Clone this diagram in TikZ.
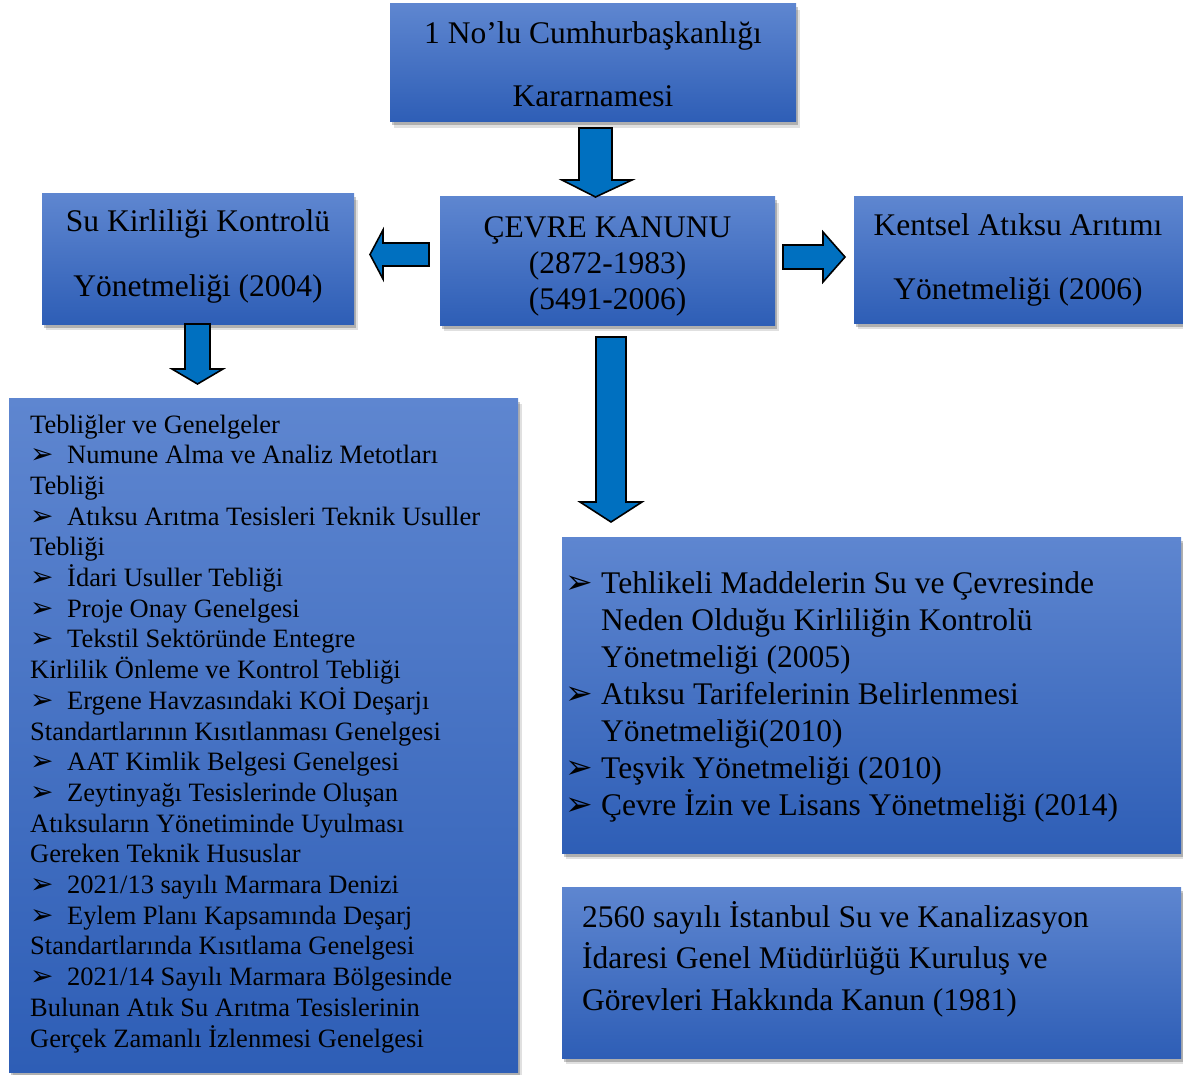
\documentclass[tikz,border=0pt]{standalone}
\usepackage{fontspec}
\setmainfont{Liberation Serif}
\newfontfamily\symfont{DejaVu Sans}
\usetikzlibrary{shadows}

\definecolor{boxtop}{HTML}{5E86D0}
\definecolor{boxbot}{HTML}{2E5EB6}
\definecolor{arrowblue}{HTML}{0070C0}

% arrowhead bullets for the two lists
\newcommand\bulS{\makebox[37pt][l]{\symfont\fontsize{28}{28}\selectfont ➢}}
\newcommand\bulL{\makebox[36pt][l]{\symfont\fontsize{33}{33}\selectfont ➢}}

\tikzset{
  box/.style={rectangle, inner sep=0pt, draw=none,
    top color=boxtop, bottom color=boxbot,
    % two stacked faint shadows give a softer edge
    drop shadow={shadow xshift=3.5pt, shadow yshift=-6pt, opacity=.12, fill=black},
    drop shadow={shadow xshift=2pt, shadow yshift=-3.5pt, opacity=.22, fill=black}},
  blockarrow/.style={fill=arrowblue, draw=black, line width=1.6pt, line join=miter},
  lbl/.style={inner sep=0pt, text=black, align=center, anchor=base},
  listtext/.style={inner sep=0pt, text=black, align=left, anchor=base west},
  bigfont/.style={font=\fontsize{31.5}{#1}\selectfont},
}

\begin{document}
\begin{tikzpicture}[x=1pt, y=-1pt]
\useasboundingbox (0,0) rectangle (1183,1075);

% boxes
\node[box, minimum width=406pt, minimum height=118pt] (kararname) at (593,63) {};
\node[box, minimum width=335pt, minimum height=128pt] (kanun) at (607.5,261) {};
\node[box, minimum width=312pt, minimum height=130pt] (sukirlilik) at (198,259) {};
\node[box, minimum width=336pt, minimum height=126pt] (kentsel) at (1022,260) {};
\node[box, minimum width=509pt, minimum height=674pt] (teblig) at (263.5,735) {};
\node[box, minimum width=619pt, minimum height=316pt] (yonetmelik) at (871.5,695) {};
\node[box, minimum width=619pt, minimum height=171pt] (iski) at (871.5,972.5) {};

% box texts (each placed by the baseline of its last line)
\node[lbl, bigfont=63] (t1) at (593,107) {1 No’lu Cumhurbaşkanlığı\\Kararnamesi};
\node[lbl, bigfont=36] (t2) at (607.5,309) {ÇEVRE KANUNU\\(2872-1983)\\(5491-2006)};
\node[lbl, bigfont=65] (t3) at (198,297) {Su Kirliliği Kontrolü\\Yönetmeliği (2004)};
\node[lbl, bigfont=64] (t4) at (1018,300) {Kentsel Atıksu Arıtımı\\Yönetmeliği (2006)};

\node[listtext, font=\fontsize{26.5}{30.7}\selectfont] (t5) at (30,1047) {%
Tebliğler ve Genelgeler\\
\bulS Numune Alma ve Analiz Metotları\\
Tebliği\\
\bulS Atıksu Arıtma Tesisleri Teknik Usuller\\
Tebliği\\
\bulS İdari Usuller Tebliği\\
\bulS Proje Onay Genelgesi\\
\bulS Tekstil Sektöründe Entegre\\
Kirlilik Önleme ve Kontrol Tebliği\\
\bulS Ergene Havzasındaki KOİ Deşarjı\\
Standartlarının Kısıtlanması Genelgesi\\
\bulS AAT Kimlik Belgesi Genelgesi\\
\bulS Zeytinyağı Tesislerinde Oluşan\\
Atıksuların Yönetiminde Uyulması\\
Gereken Teknik Hususlar\\
\bulS 2021/13 sayılı Marmara Denizi\\
\bulS Eylem Planı Kapsamında Deşarj\\
Standartlarında Kısıtlama Genelgesi\\
\bulS 2021/14 Sayılı Marmara Bölgesinde\\
Bulunan Atık Su Arıtma Tesislerinin\\
Gerçek Zamanlı İzlenmesi Genelgesi};

\node[listtext, bigfont=37] (t6) at (565,815) {%
\bulL Tehlikeli Maddelerin Su ve Çevresinde\\
\hspace*{36pt}Neden Olduğu Kirliliğin Kontrolü\\
\hspace*{36pt}Yönetmeliği (2005)\\
\bulL Atıksu Tarifelerinin Belirlenmesi\\
\hspace*{36pt}Yönetmeliği(2010)\\
\bulL Teşvik Yönetmeliği (2010)\\
\bulL Çevre İzin ve Lisans Yönetmeliği (2014)};

\node[listtext, bigfont=41.5] (t7) at (582,1010) {%
2560 sayılı İstanbul Su ve Kanalizasyon\\
İdaresi Genel Müdürlüğü Kuruluş ve\\
Görevleri Hakkında Kanun (1981)};

% block arrows between the boxes
\draw[blockarrow] (579,128) -- (612,128) -- (612,180) -- (632,180) -- (595.5,197)
  -- (562,180) -- (579,180) -- cycle;
\draw[blockarrow] (429,243) -- (429,266) -- (383,266) -- (383,279) -- (370,254.5)
  -- (383,230) -- (383,243) -- cycle;
\draw[blockarrow] (783,245) -- (783,269) -- (823,269) -- (823,282) -- (845,257)
  -- (823,232) -- (823,245) -- cycle;
\draw[blockarrow] (185,324) -- (210,324) -- (210,369) -- (223,369) -- (197.5,384)
  -- (172,369) -- (185,369) -- cycle;
\draw[blockarrow] (596,337) -- (626,337) -- (626,502) -- (642,502) -- (611,522)
  -- (580,502) -- (596,502) -- cycle;
\end{tikzpicture}
\end{document}
